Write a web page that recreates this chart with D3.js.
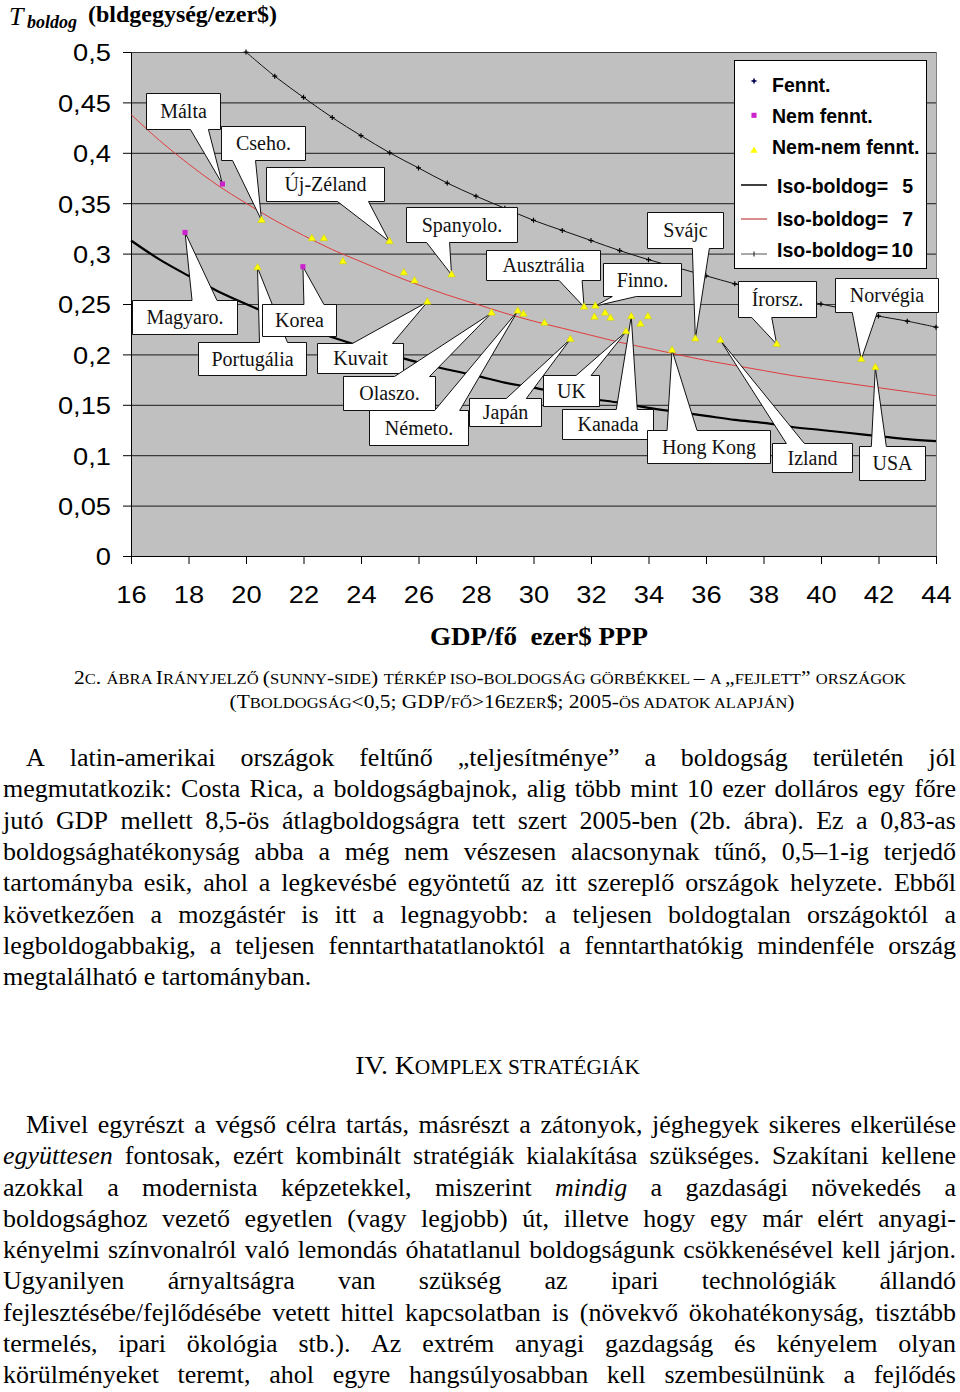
<!DOCTYPE html>
<html lang="hu">
<head>
<meta charset="utf-8">
<title>Iso-boldogság görbék</title>
<script src="https://cdnjs.cloudflare.com/ajax/libs/d3/7.8.5/d3.min.js"></script>
<style>
  body { margin: 0; background: #fff; }
  svg { display: block; }
  .serif { font-family: "Liberation Serif", "Times New Roman", serif; }
  .sans { font-family: "Liberation Sans", Arial, sans-serif; }
</style>
</head>
<body>
<script>
// ---- data ----
var xTicks = [16, 18, 20, 22, 24, 26, 28, 30, 32, 34, 36, 38, 40, 42, 44];
var yTicks = [0, 0.05, 0.1, 0.15, 0.2, 0.25, 0.3, 0.35, 0.4, 0.45, 0.5];
var yTickLabels = ["0", "0,05", "0,1", "0,15", "0,2", "0,25", "0,3", "0,35", "0,4", "0,45", "0,5"];

var isoGdp = [16, 17, 18, 19, 20, 21, 22, 23, 24, 25, 26, 27, 28, 29, 30,
              31, 32, 33, 34, 35, 36, 37, 38, 39, 40, 41, 42, 43, 44];
var iso5 = [0.313, 0.294, 0.278, 0.263, 0.25, 0.238, 0.227, 0.217, 0.208, 0.2, 0.192, 0.185, 0.179, 0.172, 0.167,
            0.161, 0.156, 0.152, 0.147, 0.143, 0.139, 0.135, 0.132, 0.128, 0.125, 0.122, 0.119, 0.116, 0.114];
var iso7 = [0.438, 0.412, 0.389, 0.368, 0.35, 0.333, 0.318, 0.304, 0.292, 0.28, 0.269, 0.259, 0.25, 0.241, 0.233,
            0.226, 0.219, 0.212, 0.206, 0.2, 0.194, 0.189, 0.184, 0.179, 0.175, 0.171, 0.167, 0.163, 0.159];
var iso10Gdp = [20, 21, 22, 23, 24, 25, 26, 27, 28, 29, 30, 31, 32, 33, 34, 35, 36, 37, 38, 39, 40, 41, 42, 43, 44];
var iso10 = [0.5, 0.476, 0.455, 0.435, 0.417, 0.4, 0.385, 0.37, 0.357, 0.345, 0.333, 0.323, 0.313, 0.303, 0.294,
             0.286, 0.278, 0.27, 0.263, 0.256, 0.25, 0.244, 0.238, 0.233, 0.227];

// [country, GDP/fő, T boldog]
var fennt = [];
var nemFennt = [
  ["Málta", 19.18, 0.369],
  ["Magyaro.", 17.88, 0.321],
  ["Korea", 21.98, 0.287]
];
var nemNemFennt = [
  ["Cseho.", 20.54, 0.333],
  ["Portugália", 20.40, 0.286],
  ["", 22.29, 0.315],
  ["", 22.71, 0.315],
  ["", 23.37, 0.292],
  ["Új-Zéland", 24.99, 0.312],
  ["", 25.49, 0.281],
  ["", 25.86, 0.273],
  ["Kuvait", 26.31, 0.252],
  ["Spanyolo.", 27.15, 0.279],
  ["Olaszo.", 28.54, 0.241],
  ["Németo.", 29.45, 0.243],
  ["", 29.65, 0.240],
  ["", 30.38, 0.231],
  ["Japán", 31.28, 0.215],
  ["Ausztrália", 31.76, 0.247],
  ["", 32.12, 0.237],
  ["Finno.", 32.15, 0.248],
  ["", 32.49, 0.241],
  ["", 32.68, 0.236],
  ["UK", 33.22, 0.2225],
  ["Kanada", 33.40, 0.2375],
  ["", 33.72, 0.230],
  ["", 33.98, 0.2375],
  ["Hong Kong", 34.82, 0.204],
  ["Svájc", 35.63, 0.2155],
  ["Izland", 36.50, 0.214],
  ["Írorsz.", 38.46, 0.210],
  ["Norvégia", 41.40, 0.195],
  ["USA", 41.89, 0.187]
];

// callout boxes, pixel offsets from the point: [name, dx, dy, w, h, side, base0, base1]
var callouts = [
  ["Málta", -76, -91, 74, 36, "b", -32, -14],
  ["Cseho.", -41, -94, 84, 34, "b", -29, -6],
  ["Új-Zéland", -123, -75, 118, 34, "b", -52, -21],
  ["Spanyolo.", -46, -68, 111, 35, "b", -25, -2],
  ["Magyaro.", -53, 68, 105, 34, "t", 7, 32],
  ["Portugália", -59, 74, 108, 33, "t", 2, 30],
  ["Korea", -41, 37, 74, 32, "t", 1, 21],
  ["Kuvait", -110, 41, 86, 30, "t", -75, -35],
  ["Olaszo.", -149, 63, 92, 34, "t", -97, -62],
  ["Németo.", -149, 99, 99, 35, "t", -83, -58],
  ["Japán", -101, 59, 72, 28, "t", -64, -44],
  ["UK", -83, 43, 56, 31, "t", -50, -35],
  ["Kanada", -69, 92, 91, 30, "t", -15, 6],
  ["Hong Kong", -25, 80, 123, 33, "t", -5, 25],
  ["Izland", 52, 103, 80, 29, "t", 66, 84],
  ["USA", -16, 78, 66, 34, "t", -4, 11],
  ["Svájc", -48, -127, 76, 36, "b", -3, 14],
  ["Ausztrália", -98, -57, 114, 30, "b", -25, -2],
  ["Finno.", 8, -43, 78, 33, "b", 17, 41],
  ["Írorsz.", -39, -63, 78, 36, "b", -25, -5],
  ["Norvégia", -26, -81, 103, 34, "b", -9, 16]
];

var legendLabels = ["Fennt.", "Nem fennt.", "Nem-nem fennt.", "Iso-boldog=", "Iso-boldog=", "Iso-boldog="];
var legendNumbers = ["", "", "", "5", "7", "10"];

var yTitleMain = "T", yTitleSub = "boldog", yTitleUnit = "(bldgegység/ezer$)";
var xTitle = "GDP/fő  ezer$ PPP";
var caption = ["2c. ábra Irányjelző (sunny-side) térkép iso-boldogság görbékkel – a „fejlett” országok",
               "(Tboldogság<0,5; GDP/fő>16ezer$; 2005-ös adatok alapján)"];
var para1 = [
  "A latin-amerikai országok feltűnő „teljesítménye” a boldogság területén jól",
  "megmutatkozik: Costa Rica, a boldogságbajnok, alig több mint 10 ezer dolláros egy főre",
  "jutó GDP mellett 8,5-ös átlagboldogságra tett szert 2005-ben (2b. ábra). Ez a 0,83-as",
  "boldogsághatékonyság abba a még nem vészesen alacsonynak tűnő, 0,5–1-ig terjedő",
  "tartományba esik, ahol a legkevésbé egyöntetű az itt szereplő országok helyzete. Ebből",
  "következően a mozgástér is itt a legnagyobb: a teljesen boldogtalan országoktól a",
  "legboldogabbakig, a teljesen fenntarthatatlanoktól a fenntarthatókig mindenféle ország",
  "megtalálható e tartományban."
];
var heading = "IV. Komplex stratégiák";
var para2 = [
  "Mivel egyrészt a végső célra tartás, másrészt a zátonyok, jéghegyek sikeres elkerülése",
  "*együttesen* fontosak, ezért kombinált stratégiák kialakítása szükséges. Szakítani kellene",
  "azokkal a modernista képzetekkel, miszerint *mindig* a gazdasági növekedés a",
  "boldogsághoz vezető egyetlen (vagy legjobb) út, illetve hogy egy már elért anyagi-",
  "kényelmi színvonalról való lemondás óhatatlanul boldogságunk csökkenésével kell járjon.",
  "Ugyanilyen árnyaltságra van szükség az ipari technológiák állandó",
  "fejlesztésébe/fejlődésébe vetett hittel kapcsolatban is (növekvő ökohatékonyság, tisztább",
  "termelés, ipari ökológia stb.). Az extrém anyagi gazdagság és kényelem olyan",
  "körülményeket teremt, ahol egyre hangsúlyosabban kell szembesülnünk a fejlődés"
];

// ---- chart ----
var svg = d3.select("body").append("svg")
    .attr("width", 960)
    .attr("height", 1392);

var x = d3.scaleLinear().domain([16, 44]).range([131, 936]);
var y = d3.scaleLinear().domain([0, 0.5]).range([556, 52]);

svg.append("rect")
    .attr("x", x(16))
    .attr("y", y(0.5))
    .attr("width", x(44) - x(16))
    .attr("height", y(0) - y(0.5))
    .attr("fill", "#c0c0c0");

svg.append("g").selectAll("line")
    .data(yTicks.slice(1))
    .join("line")
    .attr("x1", x(16)).attr("x2", x(44))
    .attr("y1", d => y(d) + 0.5).attr("y2", d => y(d) + 0.5)
    .attr("stroke", "#3a3a3a")
    .attr("stroke-width", 1.2);

svg.append("line")
    .attr("x1", x(44) + 0.5).attr("x2", x(44) + 0.5)
    .attr("y1", y(0.5)).attr("y2", y(0))
    .attr("stroke", "#808080");

var gy = svg.append("g")
    .attr("transform", "translate(" + x(16) + ",0)")
    .call(d3.axisLeft(y).tickValues(yTicks).tickSize(8).tickSizeOuter(0).tickPadding(12)
      .tickFormat((d, i) => yTickLabels[i]));

var gx = svg.append("g")
    .attr("transform", "translate(0," + y(0) + ")")
    .call(d3.axisBottom(x).tickValues(xTicks).tickSize(8).tickSizeOuter(0).tickPadding(22));

[gx, gy].forEach(g => {
  g.selectAll("path, line").attr("stroke", "#000");
  g.selectAll("text")
    .attr("class", "sans")
    .style("font-size", "23.5px")
    .attr("fill", "#000");
});
gy.selectAll(".tick text").attr("x", 0).attr("dy", "0.38em")
    .attr("transform", "translate(-20,0) scale(1.16,1)");
gx.selectAll(".tick text").attr("transform", "scale(1.16,1)");

// iso-boldog curves
var curve = d3.line().x(d => x(d[0])).y(d => y(d[1])).curve(d3.curveCatmullRom);

svg.append("path")
    .datum(isoGdp.map((g, i) => [g, iso5[i]]))
    .attr("d", curve)
    .attr("fill", "none")
    .attr("stroke", "#000")
    .attr("stroke-width", 2.2);

svg.append("path")
    .datum(isoGdp.map((g, i) => [g, iso7[i]]))
    .attr("d", curve)
    .attr("fill", "none")
    .attr("stroke", "#e03c3c")
    .attr("stroke-width", 1);

var iso10Pts = iso10Gdp.map((g, i) => [g, iso10[i]]);
svg.append("path")
    .datum(iso10Pts)
    .attr("d", curve)
    .attr("fill", "none")
    .attr("stroke", "#111")
    .attr("stroke-width", 1);

svg.append("g").selectAll("path")
    .data(iso10Pts)
    .join("path")
    .attr("transform", d => "translate(" + x(d[0]) + "," + y(d[1]) + ")")
    .attr("d", "M-2.5,0H2.5M0,-2.5V2.5")
    .attr("stroke", "#000")
    .attr("stroke-width", 1.2);

// callouts
var points = new Map(nemFennt.concat(nemNemFennt).filter(d => d[0]).map(d => [d[0], d]));
var gc = svg.append("g").attr("class", "serif");

callouts.forEach(c => {
  var p = points.get(c[0]);
  var px = x(p[1]), py = y(p[2]);
  var L = Math.round(px + c[1]) + 0.5, T = Math.round(py + c[2]) + 0.5;
  var R = L + c[3], B = T + c[4];
  var b0 = px + c[6], b1 = px + c[7];
  var pts = c[5] === "t"
    ? [[L, T], [b0, T], [px, py], [b1, T], [R, T], [R, B], [L, B]]
    : [[L, T], [R, T], [R, B], [b1, B], [px, py], [b0, B], [L, B]];
  gc.append("path")
    .attr("d", "M" + pts.join("L") + "Z")
    .attr("fill", "#fff")
    .attr("stroke", "#111")
    .attr("stroke-width", 1)
    .attr("stroke-linejoin", "miter");
  gc.append("text")
    .attr("x", (L + R) / 2)
    .attr("y", (T + B) / 2 + 6.5)
    .attr("text-anchor", "middle")
    .style("font-size", "20px")
    .attr("fill", "#111")
    .text(c[0]);
});

// markers
var tri = d3.symbol(d3.symbolTriangle, 24);
var sq = d3.symbol(d3.symbolSquare, 26);
var star = "M0,-3.5L1,-1L3.5,0L1,1L0,3.5L-1,1L-3.5,0L-1,-1Z";

svg.append("g").selectAll("path")
    .data(nemNemFennt)
    .join("path")
    .attr("transform", d => "translate(" + x(d[1]) + "," + y(d[2]) + ")")
    .attr("d", tri)
    .attr("fill", "#ffff00")
    .attr("stroke", "#c8c800")
    .attr("stroke-width", 0.5);

svg.append("g").selectAll("path")
    .data(nemFennt)
    .join("path")
    .attr("transform", d => "translate(" + x(d[1]) + "," + y(d[2]) + ")")
    .attr("d", sq)
    .attr("fill", "#cc22cc");

svg.append("g").selectAll("path")
    .data(fennt)
    .join("path")
    .attr("transform", d => "translate(" + x(d[1]) + "," + y(d[2]) + ")")
    .attr("d", star)
    .attr("fill", "#000050");

// legend
var lg = svg.append("g").attr("class", "sans");
lg.append("rect")
    .attr("x", 734.5).attr("y", 60.5)
    .attr("width", 192).attr("height", 208)
    .attr("fill", "#fff")
    .attr("stroke", "#000");

var legBase = [91.7, 122.7, 154.3, 193.3, 225.7, 257.3];
var legMark = [81, 115.3, 150.7, 185, 219, 254];

lg.append("path").attr("transform", "translate(754," + legMark[0] + ")").attr("d", star).attr("fill", "#000050");
lg.append("path").attr("transform", "translate(754," + legMark[1] + ")").attr("d", sq).attr("fill", "#cc22cc");
lg.append("path").attr("transform", "translate(754," + legMark[2] + ")").attr("d", tri).attr("fill", "#ffff00");
lg.append("line").attr("x1", 741).attr("x2", 767).attr("y1", legMark[3]).attr("y2", legMark[3])
    .attr("stroke", "#000").attr("stroke-width", 1.5);
lg.append("line").attr("x1", 741).attr("x2", 767).attr("y1", legMark[4]).attr("y2", legMark[4])
    .attr("stroke", "#c04040").attr("stroke-width", 1.2);
lg.append("line").attr("x1", 741).attr("x2", 767).attr("y1", legMark[5]).attr("y2", legMark[5])
    .attr("stroke", "#707070").attr("stroke-width", 1.2);
lg.append("path").attr("transform", "translate(754," + legMark[5] + ")")
    .attr("d", "M0,-2.5V2.5").attr("stroke", "#333").attr("stroke-width", 1.2);

lg.selectAll("text.lab")
    .data(legendLabels)
    .join("text")
    .attr("class", "lab")
    .attr("x", (d, i) => i < 3 ? 772 : 777)
    .attr("y", (d, i) => legBase[i])
    .style("font-size", "19.5px")
    .style("font-weight", "bold")
    .text(d => d);

lg.selectAll("text.num")
    .data(legendNumbers)
    .join("text")
    .attr("class", "num")
    .attr("x", 913)
    .attr("y", (d, i) => legBase[i])
    .attr("text-anchor", "end")
    .style("font-size", "19.5px")
    .style("font-weight", "bold")
    .text(d => d);

// axis titles
var yt = svg.append("g").attr("class", "serif").attr("fill", "#000");
yt.append("text").attr("x", 9).attr("y", 25)
    .style("font-size", "26px").style("font-style", "italic")
    .text(yTitleMain);
yt.append("text").attr("x", 27).attr("y", 27.5)
    .style("font-size", "18px").style("font-style", "italic").style("font-weight", "bold")
    .text(yTitleSub);
yt.append("text").attr("x", 88).attr("y", 22)
    .style("font-size", "23px").style("font-weight", "bold")
    .attr("textLength", 189).attr("lengthAdjust", "spacingAndGlyphs")
    .text(yTitleUnit);

svg.append("text")
    .attr("class", "serif")
    .attr("x", 430).attr("y", 645)
    .style("font-size", "26px").style("font-weight", "bold")
    .attr("textLength", 218).attr("lengthAdjust", "spacingAndGlyphs")
    .style("white-space", "pre")
    .text(xTitle);

// ---- text of the page ----
function smallCaps(str, cx, base, big, small, targetW) {
  var g = svg.append("g").attr("class", "serif");
  var t = g.append("text").attr("text-anchor", "middle").style("white-space", "pre");
  var runs = [], prev = "b";
  for (var ch of str) {
    var type = ch === " " ? prev : (ch !== ch.toUpperCase() ? "s" : "b");
    if (runs.length && runs[runs.length - 1].type === type) runs[runs.length - 1].s += ch;
    else runs.push({type: type, s: ch});
    prev = type;
  }
  runs.forEach(r => {
    t.append("tspan")
      .style("font-size", (r.type === "s" ? small : big) + "px")
      .text(r.s.toUpperCase());
  });
  var w = t.node().getComputedTextLength();
  g.attr("transform", "translate(" + cx + "," + base + ") scale(" + (targetW / w) + ",1)");
}

smallCaps(caption[0], 490, 684, 19, 14.6, 832);
smallCaps(caption[1], 512, 708, 19, 14.6, 565);
smallCaps(heading, 497.5, 1074, 26, 20, 285);

var bodySize = 26, bodyStretch = 1;

function justifyLine(str, left, right, base, isLast) {
  var g = svg.append("g").attr("class", "serif").style("font-size", bodySize + "px");
  var words = str.split(" ").map(w => ({t: w.replace(/\*/g, ""), it: /^\*.+\*$/.test(w)}));
  var nodes = words.map(w => g.append("text").style("font-style", w.it ? "italic" : null).text(w.t));
  var widths = nodes.map(n => n.node().getComputedTextLength());
  var total = d3.sum(widths);
  var sx = bodyStretch;
  var gap = isLast ? 0.25 * bodySize : ((right - left) / sx - total) / (words.length - 1);
  if (!isLast && gap < 0.15 * bodySize) {
    gap = 0.15 * bodySize;
    sx = (right - left) / (total + gap * (words.length - 1));
  }
  var cx = 0;
  nodes.forEach((n, i) => { n.attr("x", cx); cx += widths[i] + gap; });
  g.attr("transform", "translate(" + left + "," + base + ") scale(" + sx + ",1)");
}

para1.forEach((s, i) => justifyLine(s, i === 0 ? 26 : 3, 956, 766 + i * 31.35, i === para1.length - 1));
para2.forEach((s, i) => justifyLine(s, i === 0 ? 26 : 3, 956, 1133 + i * 31.25, false));
</script>
</body>
</html>
